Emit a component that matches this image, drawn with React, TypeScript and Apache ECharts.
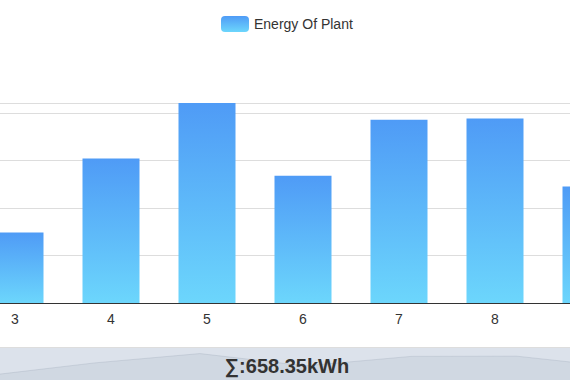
import React, { useEffect, useRef } from "react";
import * as echarts from "echarts";

// Days of the month (categories) and energy values (kWh)
const days = ["1", "2", "3", "4", "5", "6", "7", "8", "9", "10", "11"];
const energy = [55.62, 68.35, 29.73, 60.88, 84.21, 53.6, 77.18, 77.73, 49.1, 45.18, 56.77];
const seriesName = "Energy Of Plant";
const unit = "kWh";
const yInterval = 20;
// Day labels that fall inside the visible crop
const visibleDays = ["3", "4", "5", "6", "7", "8"];

// The reference shows a crop of a wider chart
const CHART_W = 1200;
const CHART_H = 392;
const OFFSET_X = -313;

export default function App() {
  const ref = useRef<HTMLDivElement>(null);

  useEffect(() => {
    if (!ref.current) return;
    const chart = echarts.init(ref.current, null, { renderer: "svg" });
    const total = energy.reduce((a, b) => a + b, 0);
    const gradient = new echarts.graphic.LinearGradient(0, 0, 0, 1, [
      { offset: 0, color: "#4f9bf6" },
      { offset: 1, color: "#6cd6fc" },
    ]);
    const shadowStyle = {
      lineStyle: { color: "#2f4554", width: 0.5, opacity: 0.3 },
      areaStyle: { color: "rgba(47,69,84,0.3)", opacity: 0.3 },
    };
    chart.setOption({
      animation: false,
      textStyle: { fontFamily: "'Liberation Sans', Arial, sans-serif" },
      legend: {
        data: [seriesName],
        left: 221 - OFFSET_X,
        top: 16,
        padding: 0,
        itemWidth: 28,
        itemHeight: 16,
        textStyle: { fontSize: 14, color: "#333" },
      },
      grid: {
        left: 88,
        width: 1056,
        top: 103,
        height: 200,
        containLabel: false,
        outerBoundsMode: "none",
      },
      xAxis: {
        type: "category",
        data: days,
        boundaryGap: true,
        axisLine: { lineStyle: { color: "#333" } },
        axisTick: { alignWithLabel: true, length: 6, lineStyle: { color: "#333" } },
        axisLabel: {
          fontSize: 14,
          color: "#333",
          margin: 9,
          interval: 0,
          formatter: (v: string) => (visibleDays.indexOf(v) >= 0 ? v : ""),
        },
      },
      yAxis: {
        type: "value",
        min: 0,
        max: "dataMax",
        interval: yInterval,
        axisLine: { show: false },
        axisTick: { show: false },
        axisLabel: { show: false },
        splitLine: { lineStyle: { color: "#ddd" } },
      },
      dataZoom: [
        {
          type: "slider",
          xAxisIndex: 0,
          start: 0,
          end: 100,
          left: 88,
          width: 1056,
          top: 347,
          height: 35,
          showDetail: false,
          showDataShadow: true,
          brushSelect: false,
          moveHandleSize: 0,
          borderColor: "#ddd",
          borderRadius: 0,
          backgroundColor: "rgba(47,69,84,0)",
          fillerColor: "rgba(167,183,204,0.4)",
          dataBackground: shadowStyle,
          selectedDataBackground: shadowStyle,
        },
      ],
      graphic: [
        {
          type: "text",
          z: 100,
          x: 287 - OFFSET_X,
          y: 365.5,
          style: {
            text: "∑:" + total.toFixed(2) + unit,
            fontSize: 20,
            fontWeight: "bold",
            fill: "#333",
            fontFamily: "'Liberation Sans', Arial, sans-serif",
            align: "center",
            verticalAlign: "middle",
          },
        },
      ],
      series: [
        {
          name: seriesName,
          type: "bar",
          data: energy,
          barWidth: 57,
          itemStyle: { color: gradient },
        },
      ],
    });
    return () => chart.dispose();
  }, []);

  return (
    <div
      style={{
        position: "fixed",
        left: 0,
        top: 0,
        width: 570,
        height: 380,
        overflow: "hidden",
        background: "#fff",
      }}
    >
      <div
        ref={ref}
        style={{
          position: "absolute",
          left: OFFSET_X,
          top: 0,
          width: CHART_W,
          height: CHART_H,
        }}
      />
    </div>
  );
}
